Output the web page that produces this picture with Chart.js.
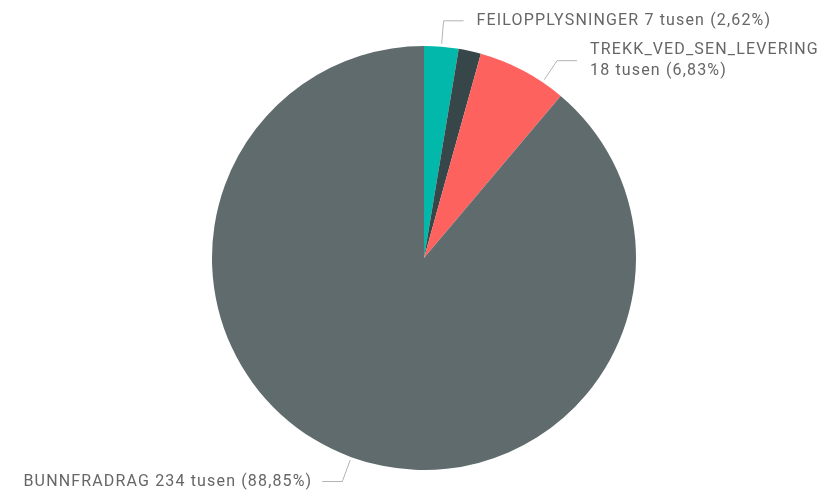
<!DOCTYPE html>
<html>
<head>
<meta charset="utf-8">
<script src="https://cdn.jsdelivr.net/npm/chart.js@4"></script>
<style>
  html, body { margin: 0; padding: 0; background: #fff; }
  canvas { display: block; }
</style>
</head>
<body>
<canvas id="myPieChart" width="830" height="491"></canvas>
<script>
// values in tusen
const categories = ["FEILOPPLYSNINGER", "ANNET", "TREKK_VED_SEN_LEVERING", "BUNNFRADRAG"];
const values = [6.90, 4.48, 17.99, 234.03];
const showLabel = [true, false, true, true];
const colors = ["#01B8AA", "#374649", "#FD625E", "#5F6B6D"];

const fmtPct = (v, total) => (v / total * 100).toFixed(2).replace(".", ",") + "%";

// leader lines + labels, Power BI style
const pieLabels = {
  id: "pieLabels",
  afterDatasetsDraw(chart) {
    const ctx = chart.ctx;
    const meta = chart.getDatasetMeta(0);
    const total = values.reduce((a, b) => a + b, 0);
    // where along the slice the leader starts (0..1)
    const along = [0.5, 0.5, 0.75, 0.5];
    ctx.save();
    ctx.font = "16px Roboto, sans-serif";
    if ("letterSpacing" in ctx) ctx.letterSpacing = "1.15px";
    ctx.textBaseline = "middle";
    meta.data.forEach((arc, i) => {
      if (!showLabel[i]) return;
      const { x, y, startAngle, endAngle, outerRadius } = arc.getProps(
        ["x", "y", "startAngle", "endAngle", "outerRadius"], true);
      const a = startAngle + (endAngle - startAngle) * along[i];
      const right = Math.cos(a) >= 0;
      const x0 = x + Math.cos(a) * (outerRadius + 3);
      const y0 = y + Math.sin(a) * (outerRadius + 3);
      const x1 = x + Math.cos(a) * (outerRadius + 26);
      const y1 = y + Math.sin(a) * (outerRadius + 26);
      const x2 = x1 + (right ? 20 : -20);
      ctx.strokeStyle = "#b3b3b3";
      ctx.lineWidth = 1;
      ctx.beginPath();
      ctx.moveTo(x0, y0);
      ctx.lineTo(x1, y1);
      ctx.lineTo(x2, y1);
      ctx.stroke();

      const valTxt = Math.round(values[i]) + " tusen (" + fmtPct(values[i], total) + ")";
      let lines = [categories[i] + " " + valTxt];
      const tx = x2 + (right ? 13 : -10);
      const maxW = right ? chart.width - tx - 4 : tx - 4;
      if (ctx.measureText(lines[0]).width > maxW) lines = [categories[i], valTxt];
      ctx.fillStyle = "#666666";
      ctx.textAlign = right ? "left" : "right";
      const lh = 21;
      lines.forEach((t, k) => {
        ctx.fillText(t, tx, y1 + (k - (lines.length - 1) / 2) * lh);
      });
    });
    ctx.restore();
  }
};

new Chart(document.getElementById("myPieChart").getContext("2d"), {
  type: "pie",
  data: {
    labels: categories,
    datasets: [{
      data: values,
      backgroundColor: colors,
      borderWidth: 0
    }]
  },
  options: {
    responsive: false,
    animation: false,
    rotation: 0,
    layout: { padding: { left: 18, right: 0, top: 46, bottom: 21 } },
    plugins: {
      legend: { display: false },
      tooltip: { enabled: false }
    }
  },
  plugins: [pieLabels]
});
</script>
</body>
</html>
